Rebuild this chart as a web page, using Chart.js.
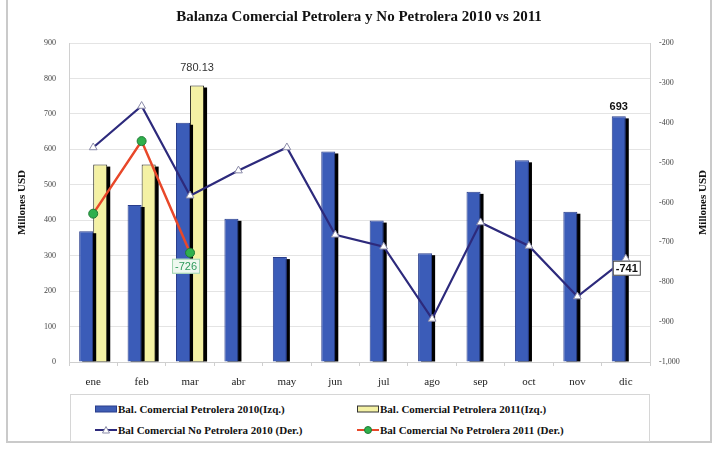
<!DOCTYPE html>
<html>
<head>
<meta charset="utf-8">
<script src="https://cdn.jsdelivr.net/npm/chart.js@4.4.0/dist/chart.umd.min.js"></script>
<style>
html, body { margin: 0; padding: 0; background: #fff; }
#frame { position: absolute; left: 6px; top: 0; width: 702px; height: 441px; border: 2px solid #cacaca; border-top: none; }
#chartBox { position: absolute; left: 0; top: 0; width: 718px; height: 392px; }
#legend { position: absolute; left: 70px; top: 394px; width: 578px; height: 46px; border: 1px solid #d6d6d6; background: #fff;
  font: bold 11px "Liberation Serif", "Times New Roman", serif; color: #111; }
.item { position: absolute; display: flex; align-items: center; white-space: nowrap; height: 14px; }
.item svg { margin-right: 1px; }
</style>
</head>
<body>
<div id="frame"></div>
<div id="chartBox"><canvas id="balanzaChart" width="718" height="392"></canvas></div>
<div id="legend">
  <div class="item" style="left:24px;top:7px">
    <svg width="22" height="8"><rect x="0.5" y="1" width="21" height="6" fill="#3f5db4" stroke="#2a3e8c"/></svg>
    <span>Bal. Comercial Petrolera 2010(Izq.)</span>
  </div>
  <div class="item" style="left:286px;top:7px">
    <svg width="22" height="8"><rect x="0.5" y="1" width="21" height="6" fill="#f4f1a4" stroke="#333"/></svg>
    <span>Bal. Comercial Petrolera 2011(Izq.)</span>
  </div>
  <div class="item" style="left:24px;top:28px">
    <svg width="22" height="10"><line x1="0" y1="5" x2="22" y2="5" stroke="#2d2a7c" stroke-width="2"/><polygon points="11,1.5 14.5,8 7.5,8" fill="#fff" stroke="#8a8aa8"/></svg>
    <span>Bal Comercial No Petrolera 2010 (Der.)</span>
  </div>
  <div class="item" style="left:286px;top:28px">
    <svg width="22" height="10"><line x1="0" y1="5" x2="22" y2="5" stroke="#e8482a" stroke-width="2"/><circle cx="11" cy="5" r="3.5" fill="#2fb04c" stroke="#1f7a35"/></svg>
    <span>Bal Comercial No Petrolera 2011 (Der.)</span>
  </div>
</div>

<script>
Chart.defaults.font.family = "'Liberation Serif', 'Times New Roman', serif";
Chart.defaults.color = "#444";

// datos (millones USD)
const meses = ["ene", "feb", "mar", "abr", "may", "jun", "jul", "ago", "sep", "oct", "nov", "dic"];
const petrolera2010 = [369, 443, 675, 404, 296, 594, 399, 307, 480, 569, 424, 693];
const petrolera2011 = [557, 557, 780.13, null, null, null, null, null, null, null, null, null];
const noPetrolera2010 = [-462, -358, -583, -520, -462, -681, -711, -892, -650, -709, -836, -741];
const noPetrolera2011 = [-628, -446, -726, null, null, null, null, null, null, null, null, null];

const leftTicks = [0, 900, 100];      // min, max, step
const rightTicks = [-1000, -200, 100];

// black drop shadow behind each bar, like the Excel original
const barShadow = {
    id: 'barShadow',
    beforeDatasetDraw(chart, args) {
        if (chart.data.datasets[args.index].type === 'line') return;
        const c = chart.ctx;
        c.save();
        c.fillStyle = '#000';
        args.meta.data.forEach((bar, i) => {
            if (chart.data.datasets[args.index].data[i] == null) return;
            const w = bar.width;
            c.fillRect(bar.x - w / 2 + 3, bar.y + 2, w, bar.base - bar.y - 2);
        });
        c.restore();
    }
};

// value callouts + axis titles
const callouts = {
    id: 'callouts',
    afterDatasetsDraw(chart) {
        const c = chart.ctx;
        const area = chart.chartArea;
        c.save();

        // 780.13 over the 2011 bar in mar
        let el = chart.getDatasetMeta(3).data[2];
        c.font = "11px 'Liberation Sans', Arial, sans-serif";
        c.fillStyle = '#333';
        c.textAlign = 'center';
        c.textBaseline = 'bottom';
        c.fillText(petrolera2011[2].toFixed(2), el.x, el.y - 12);

        // 693 over dic
        el = chart.getDatasetMeta(2).data[11];
        c.font = "bold 11px 'Liberation Sans', Arial, sans-serif";
        c.fillStyle = '#111';
        c.fillText(String(petrolera2010[11]), el.x, el.y - 4);

        // boxed labels on the lines
        const boxLabel = (x, y, txt, fg, bg, border, bold) => {
            c.font = (bold ? 'bold ' : '') + "11px 'Liberation Sans', Arial, sans-serif";
            const w = c.measureText(txt).width + 6;
            c.fillStyle = bg;
            c.fillRect(x - w / 2, y, w, 15);
            c.strokeStyle = border;
            c.lineWidth = 1;
            c.strokeRect(x - w / 2 + 0.5, y + 0.5, w - 1, 14);
            c.fillStyle = fg;
            c.textAlign = 'center';
            c.textBaseline = 'middle';
            c.fillText(txt, x, y + 8);
        };
        el = chart.getDatasetMeta(1).data[2];
        boxLabel(el.x - 4, el.y + 6, String(noPetrolera2011[2]), '#2f9a5c', '#eef8ef', '#9fd4ad', false);
        el = chart.getDatasetMeta(0).data[11];
        boxLabel(el.x + 1, el.y + 2, String(noPetrolera2010[11]), '#111', '#fff', '#444', true);

        // axis titles, both read bottom to top
        c.font = "bold 11px 'Liberation Serif', 'Times New Roman', serif";
        c.fillStyle = '#111';
        const midY = (area.top + area.bottom) / 2;
        [22, 703].forEach(x => {
            c.save();
            c.translate(x, midY);
            c.rotate(-Math.PI / 2);
            c.textAlign = 'center';
            c.textBaseline = 'middle';
            c.fillText('Millones USD', 0, 0);
            c.restore();
        });
        c.restore();
    }
};

const ctx = document.getElementById('balanzaChart').getContext('2d');
new Chart(ctx, {
    type: 'bar',
    data: {
        labels: meses,
        datasets: [
            {
                type: 'line',
                label: 'Bal Comercial No Petrolera 2010 (Der.)',
                data: noPetrolera2010,
                yAxisID: 'y1',
                borderColor: '#2d2a7c',
                borderWidth: 2.2,
                pointStyle: 'triangle',
                pointRadius: 4.5,
                pointBackgroundColor: '#fff',
                pointBorderColor: '#8a8aa8',
                pointBorderWidth: 1,
                tension: 0,
                order: 0
            },
            {
                type: 'line',
                label: 'Bal Comercial No Petrolera 2011 (Der.)',
                data: noPetrolera2011,
                yAxisID: 'y1',
                borderColor: '#e8482a',
                borderWidth: 2.5,
                pointStyle: 'circle',
                pointRadius: 4.5,
                pointBackgroundColor: '#2fb04c',
                pointBorderColor: '#1f7a35',
                pointBorderWidth: 1,
                tension: 0,
                order: 0
            },
            {
                label: 'Bal. Comercial Petrolera 2010(Izq.)',
                data: petrolera2010,
                yAxisID: 'y',
                backgroundColor: '#3b5cb8',
                borderColor: '#2a3e8c',
                borderWidth: 1,
                order: 1
            },
            {
                label: 'Bal. Comercial Petrolera 2011(Izq.)',
                data: petrolera2011,
                yAxisID: 'y',
                backgroundColor: '#f4f1a4',
                borderColor: '#2b2b20',
                borderWidth: 1,
                order: 1
            }
        ]
    },
    options: {
        responsive: false,
        animation: false,
        devicePixelRatio: 1,
        categoryPercentage: 0.58,
        barPercentage: 1.0,
        layout: { padding: 0 },
        plugins: {
            legend: { display: false },
            tooltip: { enabled: false },
            title: {
                display: true,
                text: 'Balanza Comercial Petrolera y No Petrolera 2010 vs 2011',
                color: '#111',
                font: { size: 15, weight: 'bold' },
                padding: { top: 8, bottom: 17 }
            }
        },
        scales: {
            x: {
                afterFit: s => { s.height = 30; },
                grid: { drawOnChartArea: false, drawTicks: true, tickLength: 4, color: '#cfcfcf' },
                border: { color: '#cfcfcf' },
                ticks: { color: '#222', font: { size: 11 }, padding: 10 }
            },
            y: {
                position: 'left',
                min: leftTicks[0], max: leftTicks[1],
                afterFit: s => { s.width = 69; },
                ticks: { stepSize: leftTicks[2], color: '#444', font: { size: 8 }, padding: 13 },
                grid: { color: '#e4e4e4', drawTicks: false },
                border: { color: '#d0d0d0' }
            },
            y1: {
                position: 'right',
                min: rightTicks[0], max: rightTicks[1],
                afterFit: s => { s.width = 68; },
                ticks: { stepSize: rightTicks[2], color: '#444', font: { size: 8 }, padding: 9 },
                grid: { drawOnChartArea: false, drawTicks: false },
                border: { color: '#d0d0d0' }
            }
        }
    },
    plugins: [barShadow, callouts]
});
</script>
</body>
</html>
